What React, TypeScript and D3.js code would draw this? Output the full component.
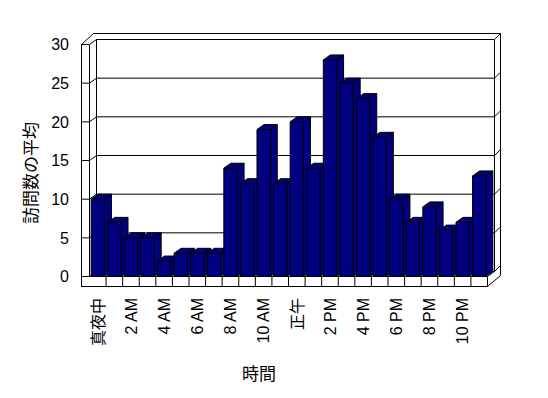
import React from 'react'
import * as d3 from 'd3'

const hours = [
  '真夜中', '1 AM', '2 AM', '3 AM', '4 AM', '5 AM', '6 AM', '7 AM', '8 AM', '9 AM', '10 AM', '11 AM',
  '正午', '1 PM', '2 PM', '3 PM', '4 PM', '5 PM', '6 PM', '7 PM', '8 PM', '9 PM', '10 PM', '11 PM'
]
const visits = [10, 7, 5, 5, 2, 3, 3, 3, 14, 12, 19, 12, 20, 14, 28, 25, 23, 18, 10, 7, 9, 6, 7, 13]
const yTicks = [0, 5, 10, 15, 20, 25, 30]
const shownLabels = hours.filter((_, i) => i % 2 === 0)

const W = 548
const H = 398
// depth offsets: front plane -> back wall face
const DX = 7
const DY = -5
const wallOuterX = 81.5
const floorBottom = 286.5

const font = '"Liberation Sans", sans-serif'
const jpFont = '"Noto Sans CJK JP", sans-serif'
const isJp = (s: string) => /[^\x00-\x7f]/.test(s)

export default function App() {
  const x = d3.scaleBand<string>().domain(hours).range([89.5, 487.5]).paddingInner(0.2).paddingOuter(0.1)
  const y = d3.scaleLinear().domain([0, 30]).range([276.5, 44.5])
  const step = x.step()
  const xStart = 89.5
  const xEnd = 487.5
  const y0 = y(0)
  const yTop = y(30)
  const ln = { stroke: '#000', strokeWidth: 1, fill: 'none' }

  return (
    <svg width={W} height={H} style={{ position: 'absolute', left: 0, top: 0, background: '#fff' }}>
      {/* back wall + floor top */}
      <polygon
        points={`${xStart + DX},${yTop + DY} ${xEnd + DX},${yTop + DY} ${xEnd + DX},${y0 + DY} ${xEnd},${y0} ${xStart},${y0} ${xStart},${yTop}`}
        fill="#fff"
      />
      {yTicks.map((t) => (
        <line key={'g' + t} x1={xStart + DX} x2={xEnd + DX} y1={y(t) + DY} y2={y(t) + DY} {...ln} />
      ))}
      {/* wall ticks */}
      {yTicks.map((t) => (
        <g key={'lt' + t}>
          <line x1={wallOuterX} x2={xStart} y1={y(t)} y2={y(t)} {...ln} />
          <line x1={xStart} x2={xStart + DX} y1={y(t)} y2={y(t) + DY} {...ln} />
          <line x1={xEnd + DX} x2={xEnd + DX + 6} y1={y(t) + DY} y2={y(t) + DY - 6} {...ln} />
        </g>
      ))}
      <line x1={xStart + DX} x2={xStart + DX} y1={yTop + DY} y2={y0 + DY} {...ln} />
      <line x1={xEnd + DX} x2={xEnd + DX} y1={yTop + DY} y2={y0 + DY} {...ln} />
      <line x1={xStart} x2={xStart} y1={yTop} y2={y0} {...ln} />
      <line x1={wallOuterX} x2={wallOuterX} y1={yTop} y2={floorBottom} {...ln} />
      <line x1={wallOuterX} x2={93.5} y1={yTop} y2={33.5} {...ln} />
      <line x1={93.5} x2={500.5} y1={33.5} y2={33.5} {...ln} />
      <line x1={500.5} x2={500.5} y1={33.5} y2={275.5} {...ln} />
      <line x1={xEnd} x2={xEnd + DX} y1={y0} y2={y0 + DY} {...ln} />
      <line x1={xEnd} x2={500.5} y1={floorBottom} y2={275.5} {...ln} />

      {/* bars */}
      {visits.map((v, i) => {
        const x0 = x(hours[i])!
        const x1 = x0 + x.bandwidth()
        const yt = y(v)
        return (
          <g key={i} stroke="#000" strokeWidth={1} fill="#000080" strokeLinejoin="round">
            <polygon points={`${x1},${yt} ${x1 + DX},${yt + DY} ${x1 + DX},${y0 + DY} ${x1},${y0}`} />
            <polygon points={`${x0},${yt} ${x0 + DX},${yt + DY} ${x1 + DX},${yt + DY} ${x1},${yt}`} />
            <rect x={x0} y={yt} width={x1 - x0} height={y0 - yt} />
          </g>
        )
      })}

      {/* floor front face */}
      <rect x={wallOuterX} y={y0} width={xEnd - wallOuterX} height={floorBottom - y0} fill="#fff" stroke="#000" />
      {hours.slice(1).map((h, i) => (
        <line key={'s' + h} x1={xStart + (i + 1) * step} x2={xStart + (i + 1) * step} y1={y0} y2={floorBottom} {...ln} />
      ))}

      {/* y tick labels */}
      {yTicks.map((t) => (
        <text key={'yl' + t} x={69} y={y(t)} dy="0.36em" textAnchor="end" fontFamily={font} fontSize={16} fill="#000">
          {t}
        </text>
      ))}

      {/* x tick labels */}
      {shownLabels.map((h) => (
        <text
          key={'xl' + h}
          transform={`translate(${x(h)! + x.bandwidth() / 2},298) rotate(-90)`}
          dy="0.36em"
          textAnchor="end"
          fontFamily={isJp(h) ? jpFont : font}
          fontSize={16}
          fill="#000"
        >
          {h}
        </text>
      ))}

      <text
        transform={`translate(31,173) rotate(-90)`}
        dy="0.36em"
        textAnchor="middle"
        fontFamily={jpFont}
        fontSize={17}
        fill="#000"
      >
        訪問数の平均
      </text>
      <text x={259} y={374} dy="0.36em" textAnchor="middle" fontFamily={jpFont} fontSize={17} fill="#000">
        時間
      </text>
    </svg>
  )
}
